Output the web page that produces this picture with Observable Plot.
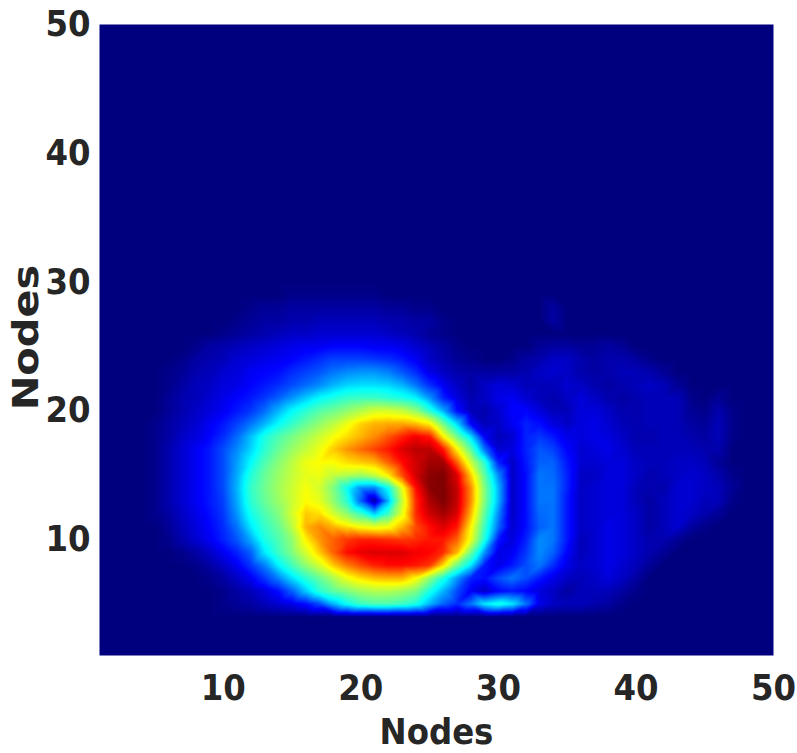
<!DOCTYPE html>
<html>
<head>
<meta charset="utf-8">
<script src="https://cdn.jsdelivr.net/npm/d3@7"></script>
<script src="https://cdn.jsdelivr.net/npm/@observablehq/plot@0.6"></script>
<style>
html,body{margin:0;padding:0;background:#fff;}
svg{display:block;}
</style>
</head>
<body>
<div id="chart"></div>
<script>
const xTicks = [10, 20, 30, 40, 50];
const yTicks = [10, 20, 30, 40, 50];
const axisLabel = "Nodes";
const jetStops = [0, 11, 35, 65, 89, 100];
const jetColors = ["#00007f", "#0000ff", "#00ffff", "#ffff00", "#ff0000", "#7f0000"];

const emptyRow = [0,0,0,0,0,0,0,0,0,0, 0,0,0,0,0,0,0,0,0,0, 0,0,0,0,0,0,0,0,0,0, 0,0,0,0,0,0,0,0,0,0, 0,0,0,0,0,0,0,0,0,0];

// Rows listed by node index on the y axis, each with 50 columns.
const row29 = [0,0,0,0,0,0,0,0,0,0, 0,0,0,0,1,1,1,1,1,1, 1,0,0,0,0,0,0,0,0,0, 0,0,0,0,0,0,0,0,0,0, 0,0,0,0,0,0,0,0,0,0];
const row28 = [0,0,0,0,0,0,0,0,0,0, 0,1,2,2,3,3,3,3,3,3, 3,2,2,1,1,0,0,0,0,0, 0,0,0,3,0,0,0,0,0,0, 0,0,0,0,0,0,0,0,0,0];
const row27 = [0,0,0,0,0,0,0,0,0,0, 1,2,3,3,4,4,5,5,5,5, 5,4,4,3,3,1,0,0,0,0, 0,0,0,3,0,0,0,0,0,0, 0,0,0,0,0,0,0,0,0,0];
const row26 = [0,0,0,0,0,0,0,0,0,1, 2,3,4,5,6,6,7,7,7,7, 7,6,5,4,2,1,0,0,0,0, 0,0,0,0,0,0,0,0,0,0, 0,0,0,0,0,0,0,0,0,0];
const row25 = [0,0,0,0,0,0,0,1,3,4, 5,6,7,8,9,10,10,11,11,11, 10,10,9,7,5,3,1,0,0,0, 0,0,2,3,3,2,2,3,2,0, 0,0,0,0,0,0,0,0,0,0];
const row24 = [0,0,0,0,0,0,1,3,4,5, 7,8,9,10,11,13,15,17,17,17, 16,15,13,10,6,4,2,1,0,0, 1,3,4,6,6,4,3,4,4,3, 1,0,0,0,0,0,0,0,0,0];
const row23 = [0,0,0,0,0,1,2,4,5,7, 8,10,11,12,15,17,19,22,24,25, 25,23,19,15,9,6,4,3,3,3, 3,4,6,7,6,4,3,4,5,5, 4,2,0,0,0,0,0,0,0,0];
const row22 = [0,0,0,0,0,1,3,5,6,8, 9,11,13,15,18,21,24,28,31,32, 32,31,28,22,15,10,6,3,6,8, 7,5,5,5,7,6,4,3,4,5, 6,5,2,0,0,0,0,0,0,0];
const row21 = [0,0,0,0,0,2,4,5,7,9, 11,13,16,20,25,30,35,38,41,42, 42,40,38,34,25,14,8,4,6,9, 10,7,5,4,6,8,6,4,3,4, 5,5,5,1,0,2,0,0,0,0];
const row20 = [0,0,0,0,0,2,4,6,8,10, 13,16,21,28,35,40,45,48,52,56, 60,60,58,52,40,27,12,5,4,7, 11,11,8,5,5,8,8,6,4,4, 5,5,5,2,1,4,1,0,0,0];
const row19 = [0,0,0,0,1,3,5,7,10,13, 17,22,28,35,41,47,52,57,63,69, 72,73,73,71,66,48,31,11,5,6, 10,14,12,8,6,8,9,7,5,4, 5,5,5,3,2,5,1,0,0,0];
const row18 = [0,0,0,0,1,3,6,8,11,15, 21,29,38,44,49,54,59,64,68,72, 76,81,86,90,87,66,48,32,10,5, 7,14,16,13,9,8,9,8,6,4, 4,5,5,4,3,5,1,0,0,0];
const row17 = [0,0,0,0,1,4,7,10,13,18, 24,31,40,47,53,58,63,70,75,79, 83,87,92,95,95,87,66,46,22,7, 8,14,19,17,11,7,8,9,7,5, 5,5,5,5,4,4,0,0,0,0];
const row16 = [0,0,0,0,1,4,7,10,13,18, 26,35,44,51,57,63,65,65,68,70, 72,80,88,93,97,97,80,59,40,14, 6,13,20,20,13,7,7,8,8,6, 5,5,6,6,5,2,0,0,0,0];
const row15 = [0,0,0,0,1,4,7,10,13,18, 27,39,47,53,58,62,63,58,56,54, 58,67,82,93,99,100,92,70,46,24, 6,12,22,21,14,6,6,8,8,6, 4,5,6,7,6,4,1,0,0,0];
const row14 = [0,0,0,0,1,4,7,10,13,18, 28,41,48,54,59,64,60,50,36,24, 23,36,62,88,99,100,94,76,50,28, 6,12,22,22,14,6,7,8,8,5, 4,4,7,7,6,5,2,0,0,0];
const row13 = [0,0,0,0,1,4,7,10,13,17, 27,40,47,53,59,65,62,52,40,20, 3,28,58,85,96,100,94,76,50,28, 6,12,22,22,13,6,7,8,8,5, 3,5,7,7,5,5,1,0,0,0];
const row12 = [0,0,0,0,1,3,6,9,12,16, 25,37,44,50,60,70,68,60,52,42, 30,42,62,85,93,97,92,72,46,24, 6,12,21,22,13,6,7,8,8,6, 3,5,7,6,4,2,0,0,0,0];
const row11 = [0,0,0,0,0,2,5,8,11,15, 22,33,41,47,57,72,76,72,68,64, 62,64,72,82,88,92,87,66,42,21, 7,12,20,22,13,6,7,9,8,6, 3,5,7,3,1,0,0,0,0,0];
const row10 = [0,0,0,0,0,1,4,7,10,14, 19,27,38,44,52,66,75,80,84,86, 86,85,84,85,87,87,80,63,38,13, 8,14,24,22,13,5,7,9,8,6, 4,4,2,0,0,0,0,0,0,0];
const row9  = [0,0,0,0,0,0,1,3,6,10, 14,20,33,42,50,60,70,80,88,91, 92,92,92,90,89,85,72,48,25,9, 10,16,24,20,11,5,7,9,8,6, 4,2,0,0,0,0,0,0,0,0];
const row8  = [0,0,0,0,0,0,0,1,3,6, 10,16,23,34,43,52,60,70,77,82, 86,88,88,87,84,68,48,33,13,9, 13,18,22,15,9,6,7,9,7,5, 2,0,0,0,0,0,0,0,0,0];
const row7  = [0,0,0,0,0,0,0,0,1,3, 6,10,16,23,32,40,47,55,63,68, 71,72,72,65,52,38,25,14,12,18, 22,18,13,9,6,5,6,8,6,3, 0,0,0,0,0,0,0,0,0,0];
const row6  = [0,0,0,0,0,0,0,0,0,1, 3,5,8,12,20,30,40,46,50,54, 56,56,54,50,38,28,18,10,6,11, 13,11,8,6,3,5,5,5,3,1, 0,0,0,0,0,0,0,0,0,0];
const row5  = [0,0,0,0,0,0,0,0,0,1, 2,3,5,7,9,12,18,28,36,42, 44,44,42,38,28,20,15,22,33,38, 33,22,9,6,5,5,4,3,1,0, 0,0,0,0,0,0,0,0,0,0];

const rowsBottomUp = [
  emptyRow, emptyRow, emptyRow, emptyRow,
  row5, row6, row7, row8, row9, row10, row11, row12, row13, row14, row15, row16, row17,
  row18, row19, row20, row21, row22, row23, row24, row25, row26, row27, row28, row29,
  emptyRow, emptyRow, emptyRow, emptyRow, emptyRow, emptyRow, emptyRow, emptyRow, emptyRow, emptyRow, emptyRow,
  emptyRow, emptyRow, emptyRow, emptyRow, emptyRow, emptyRow, emptyRow, emptyRow, emptyRow, emptyRow, emptyRow
];

const cells = rowsBottomUp.slice(0, 50).flatMap((row, i) =>
  row.map((v, j) => ({node_x: j + 1, node_y: i + 1, value: v}))
);

const font = "'DejaVu Sans Condensed','DejaVu Sans',sans-serif";

const chart = Plot.plot({
  width: 797,
  height: 753,
  marginLeft: 99,
  marginRight: 24,
  marginTop: 24,
  marginBottom: 98,
  style: {background: "#fff", fontFamily: font, fontWeight: "bold", fontSize: "36px", color: "#262626"},
  x: {domain: [1, 50]},
  y: {domain: [1, 50]},
  color: {type: "linear", domain: jetStops, range: jetColors, interpolate: "rgb"},
  marks: [
    Plot.raster(cells, {x: "node_x", y: "node_y", fill: "value", interpolate: "barycentric", imageRendering: "auto"}),
    Plot.axisX({ticks: xTicks, tickSize: 0, tickPadding: 19, label: axisLabel, labelAnchor: "center", labelArrow: "none", labelOffset: 88, fill: "#262626", fontSize: 36}),
    Plot.axisY({ticks: yTicks, tickSize: 0, tickPadding: 9, label: axisLabel, labelAnchor: "center", labelArrow: "none", labelOffset: 87, fill: "#262626", fontSize: 36})
  ]
});
document.getElementById("chart").appendChild(chart);

// The reference's vertical axis title is drawn longer than the horizontal one.
const yTitle = [...chart.querySelectorAll("text")].filter(t => t.textContent === axisLabel)
  .find(t => (t.getAttribute("transform") || "").includes("rotate"));
if (yTitle) yTitle.setAttribute("transform", yTitle.getAttribute("transform") + " translate(2.5,0) scale(1.28,1)");
</script>
</body>
</html>
